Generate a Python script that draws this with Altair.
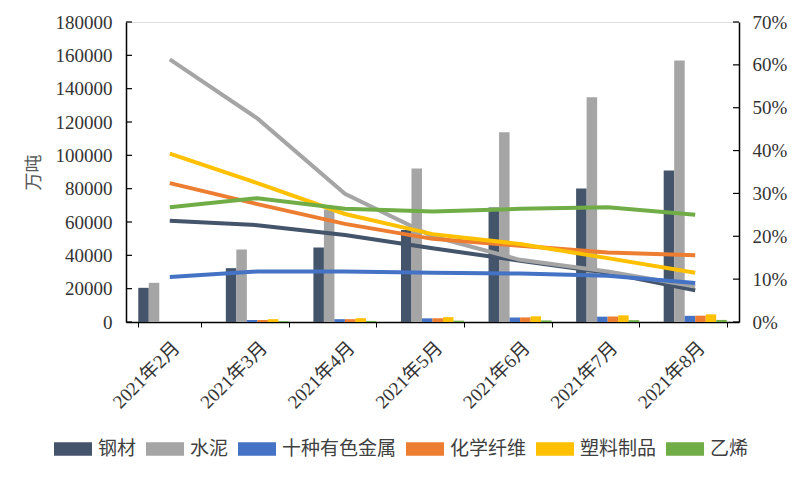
import altair as alt
import pandas as pd

months = ["2021年2月", "2021年3月", "2021年4月", "2021年5月", "2021年6月", "2021年7月", "2021年8月"]
series = ["钢材", "水泥", "十种有色金属", "化学纤维", "塑料制品", "乙烯"]
colors = ["#44546A", "#A5A5A5", "#4472C4", "#ED7D31", "#FFC000", "#70AD47"]

# 累计产量（万吨）
out_steel = [20500, 32300, 44700, 55200, 68700, 80100, 90900]
out_cement = [23500, 43500, 67500, 92100, 113800, 134900, 156900]
out_metal = [None, 1200, 1700, 2200, 2700, 3200, 3700]
out_fiber = [None, 1200, 1700, 2250, 2750, 3300, 3800]
out_plastic = [None, 1700, 2300, 2900, 3400, 4000, 4600]
out_ethylene = [None, 500, 650, 800, 950, 1100, 1250]

# 累计同比增速
g_steel = [0.236, 0.226, 0.203, 0.172, 0.143, 0.115, 0.074]
g_cement = [0.613, 0.475, 0.299, 0.200, 0.145, 0.118, 0.083]
g_metal = [0.105, 0.118, 0.118, 0.115, 0.113, 0.108, 0.091]
g_fiber = [0.324, 0.275, 0.229, 0.194, 0.178, 0.162, 0.156]
g_plastic = [0.393, 0.324, 0.252, 0.205, 0.182, 0.149, 0.115]
g_ethylene = [0.268, 0.289, 0.264, 0.258, 0.264, 0.268, 0.250]

left_ticks = [0, 20000, 40000, 60000, 80000, 100000, 120000, 140000, 160000, 180000]
right_ticks = [0, 0.1, 0.2, 0.3, 0.4, 0.5, 0.6, 0.7]

outputs = [out_steel, out_cement, out_metal, out_fiber, out_plastic, out_ethylene]
growths = [g_steel, g_cement, g_metal, g_fiber, g_plastic, g_ethylene]

bar_rows = []
line_rows = []
for s, ov, gv in zip(series, outputs, growths):
    for m, o, g in zip(months, ov, gv):
        if o is not None:
            bar_rows.append({"month": m, "series": s, "value": o})
        line_rows.append({"month": m, "series": s, "pct": g})
bar_df = pd.DataFrame(bar_rows)
line_df = pd.DataFrame(line_rows)

W, H = 613, 300
serif = "Liberation Serif, Noto Sans CJK SC"
txt = "#333333"
FS = 19

left_axis = alt.Axis(values=left_ticks, format="d", title="万吨", titleFont="Noto Sans CJK SC",
                     titleFontSize=18, titleFontWeight="normal", titleColor="#595959",
                     titlePadding=12, labelFont="Liberation Serif", labelFontSize=FS,
                     labelColor=txt, ticks=False, labelPadding=14, grid=False,
                     domainColor="black", domainWidth=1.5)
right_axis = alt.Axis(values=right_ticks, format=".0%", title=None, orient="right",
                      labelFont="Liberation Serif", labelFontSize=FS, labelColor=txt,
                      ticks=False, labelPadding=13, grid=False,
                      domainColor="black", domainWidth=1.5)
left_scale = alt.Scale(domain=[0, 180000], nice=False)
right_scale = alt.Scale(domain=[0, 0.7], nice=False)

x_enc = alt.X(
    "month:N", sort=months,
    scale=alt.Scale(paddingInner=0.28, paddingOuter=0.14),
    axis=alt.Axis(title=None, labelAngle=-45, tickBand="extent", labelFont=serif,
                  labelFontSize=FS, labelColor=txt, domainColor="black", domainWidth=1.5,
                  tickColor="black", tickSize=5, labelPadding=11),
)

bars = alt.Chart(bar_df).mark_bar().encode(
    x=x_enc,
    xOffset=alt.XOffset("series:N", sort=series, scale=alt.Scale(domain=series, paddingInner=0, paddingOuter=0)),
    y=alt.Y("value:Q", scale=left_scale, axis=left_axis),
    color=alt.Color("series:N", sort=series, scale=alt.Scale(domain=series, range=colors),
                    legend=alt.Legend(orient="none", legendX=-72, legendY=408, direction="horizontal",
                                      title=None, symbolType="M-1,-0.35L1,-0.35L1,0.35L-1,0.35Z",
                                      symbolSize=1444, symbolStrokeWidth=0, labelFont="Noto Sans CJK SC",
                                      labelFontSize=FS, labelColor="#404040", columnPadding=9, labelOffset=6)),
)

lticks = alt.Chart(pd.DataFrame({"value": left_ticks})).mark_rule(color="black", strokeWidth=1.2).encode(
    y=alt.Y("value:Q", scale=left_scale, axis=left_axis), x=alt.value(0), x2=alt.value(6))

lines = alt.Chart(line_df).mark_line(strokeWidth=4).encode(
    x=alt.X("month:N", sort=months, bandPosition=0.5),
    y=alt.Y("pct:Q", scale=right_scale, axis=right_axis),
    stroke=alt.Stroke("series:N", sort=series, scale=alt.Scale(domain=series, range=colors), legend=None),
)

rticks = alt.Chart(pd.DataFrame({"pct": right_ticks})).mark_rule(color="black", strokeWidth=1.2).encode(
    y=alt.Y("pct:Q", scale=right_scale, axis=right_axis), x=alt.value(W - 6), x2=alt.value(W))

chart = alt.layer(
    alt.layer(bars, lticks),
    alt.layer(lines, rticks),
).resolve_scale(y="independent").properties(
    width=W, height=H, padding={"left": 17, "top": 5, "right": 5, "bottom": 5}
).configure_view(stroke=None).configure(background="white")

chart.save("out.html", embed_options={"renderer": "svg", "actions": False})
